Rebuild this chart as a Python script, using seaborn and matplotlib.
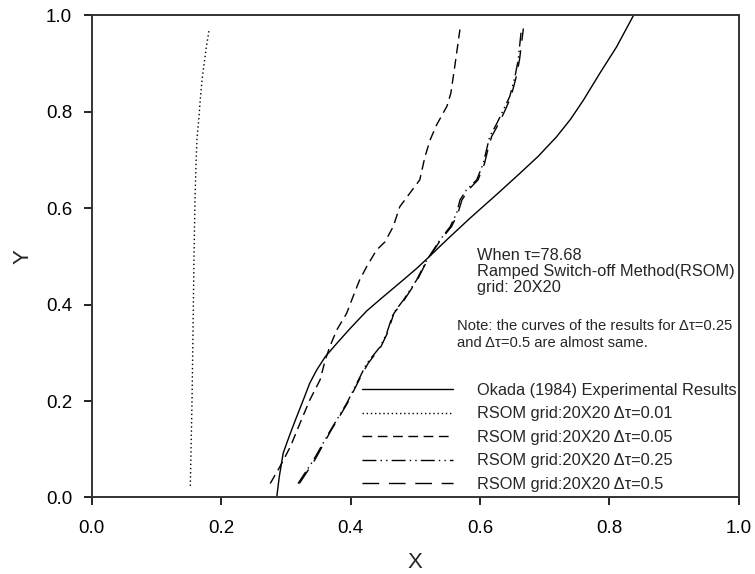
import matplotlib
matplotlib.use("Agg")
import matplotlib.pyplot as plt
import seaborn as sns
import pandas as pd

# Okada (1984) experimental interface
okada_x = [0.286, 0.290, 0.296, 0.307, 0.317, 0.327, 0.337, 0.348, 0.361, 0.379,
           0.399, 0.425, 0.451, 0.482, 0.502, 0.518, 0.549, 0.585, 0.626, 0.662,
           0.690, 0.718, 0.740, 0.760, 0.785, 0.811, 0.837]
okada_y = [0.000, 0.043, 0.092, 0.133, 0.168, 0.202, 0.237, 0.265, 0.292, 0.320,
           0.350, 0.387, 0.417, 0.452, 0.475, 0.495, 0.535, 0.580, 0.629, 0.673,
           0.708, 0.748, 0.785, 0.825, 0.880, 0.935, 1.000]

# RSOM, dtau = 0.01
d001_x = [0.1526, 0.1552, 0.1568, 0.1583, 0.1598, 0.1614, 0.1629, 0.1655, 0.1681,
          0.1707, 0.1743, 0.1773, 0.1820]
d001_y = [0.024, 0.196, 0.348, 0.500, 0.615, 0.691, 0.744, 0.782, 0.828,
          0.866, 0.904, 0.934, 0.973]

# RSOM, dtau = 0.05
d005_x = [0.276, 0.291, 0.307, 0.322, 0.337, 0.353, 0.361, 0.368, 0.379, 0.394, 0.404,
          0.414, 0.425, 0.440, 0.453, 0.466, 0.476, 0.492, 0.507, 0.515, 0.523, 0.533,
          0.549, 0.555, 0.561, 0.569]
d005_y = [0.029, 0.064, 0.105, 0.154, 0.202, 0.244, 0.285, 0.313, 0.348, 0.382, 0.417,
          0.451, 0.479, 0.513, 0.530, 0.562, 0.603, 0.632, 0.659, 0.707, 0.742, 0.773,
          0.812, 0.839, 0.894, 0.971]

# RSOM, dtau = 0.25
d025_x = [0.319, 0.343, 0.368, 0.394, 0.415, 0.425, 0.446, 0.456, 0.466, 0.482, 0.502,
          0.518, 0.538, 0.554, 0.564, 0.569, 0.579, 0.595, 0.605, 0.610, 0.615, 0.626,
          0.636, 0.646, 0.654, 0.659, 0.664]
d025_y = [0.029, 0.078, 0.137, 0.195, 0.251, 0.278, 0.313, 0.341, 0.382, 0.410, 0.451,
          0.493, 0.534, 0.562, 0.590, 0.617, 0.638, 0.659, 0.693, 0.721, 0.749, 0.776,
          0.804, 0.832, 0.873, 0.908, 0.973]

# RSOM, dtau = 0.5
d050_x = [0.321, 0.345, 0.369, 0.395, 0.416, 0.427, 0.447, 0.457, 0.467, 0.483, 0.503,
          0.519, 0.539, 0.556, 0.566, 0.572, 0.582, 0.597, 0.607, 0.612, 0.618, 0.629,
          0.639, 0.648, 0.656, 0.661, 0.667]
d050_y = [0.029, 0.078, 0.137, 0.195, 0.251, 0.278, 0.313, 0.341, 0.382, 0.410, 0.451,
          0.493, 0.534, 0.562, 0.590, 0.617, 0.638, 0.659, 0.693, 0.721, 0.749, 0.776,
          0.804, 0.832, 0.873, 0.908, 0.973]

labels = [
    "Okada (1984) Experimental Results",
    "RSOM grid:20X20 \u0394\u03c4=0.01",
    "RSOM grid:20X20 \u0394\u03c4=0.05",
    "RSOM grid:20X20 \u0394\u03c4=0.25",
    "RSOM grid:20X20 \u0394\u03c4=0.5",
]
xs = [okada_x, d001_x, d005_x, d025_x, d050_x]
ys = [okada_y, d001_y, d005_y, d025_y, d050_y]
dashes = [
    None,
    (0, (1, 2)),
    (0, (7, 4)),
    (0, (10, 3, 1, 3, 1, 3)),
    (0, (12, 7)),
]

sns.set_theme(style="white")
plt.rcParams["font.family"] = ["Liberation Sans", "DejaVu Sans"]

fig = plt.figure(figsize=(7.55, 5.74), dpi=100)
ax = fig.add_axes([0.1212, 0.1333, 0.8576, 0.8397])

for x, y, lab, ds in zip(xs, ys, labels, dashes):
    df = pd.DataFrame({"x": x, "y": y})
    kw = {}
    if ds is not None:
        kw["linestyle"] = ds
    sns.lineplot(data=df, x="x", y="y", sort=False, estimator=None, ax=ax,
                 color="black", linewidth=1.0, label=lab, **kw)

ax.set_xlim(0, 1)
ax.set_ylim(0, 1)
ticks = [0.0, 0.2, 0.4, 0.6, 0.8, 1.0]
ax.set_xticks(ticks)
ax.set_yticks(ticks)
ax.set_xticklabels([f"{t:.1f}" for t in ticks])
ax.set_yticklabels([f"{t:.1f}" for t in ticks])
ax.tick_params(axis="both", which="major", direction="out", length=6, width=1.2,
               labelsize=13.5, colors="black", bottom=True, left=True, pad=8)
ax.tick_params(axis="x", pad=10)
for sp in ax.spines.values():
    sp.set_color("#333333")
    sp.set_linewidth(1.4)

ax.set_xlabel("X", fontsize=16, labelpad=11)
ax.set_ylabel("Y", fontsize=16, labelpad=9)

ax.text(0.595, 0.518, "When \u03c4=78.68\nRamped Switch-off Method(RSOM)\ngrid: 20X20",
        transform=ax.transAxes, fontsize=11.8, va="top", ha="left", linespacing=1.1)
ax.text(0.564, 0.370,
        "Note: the curves of the results for \u0394\u03c4=0.25\nand \u0394\u03c4=0.5 are almost same.",
        transform=ax.transAxes, fontsize=10.6, va="top", ha="left", linespacing=1.27)

ax.legend(loc="upper left", bbox_to_anchor=(0.417, 0.238), frameon=False,
          fontsize=11.8, handlelength=5.6, handletextpad=1.45, labelspacing=0.52,
          borderpad=0, borderaxespad=0)

fig.savefig("out.png", dpi=100)
